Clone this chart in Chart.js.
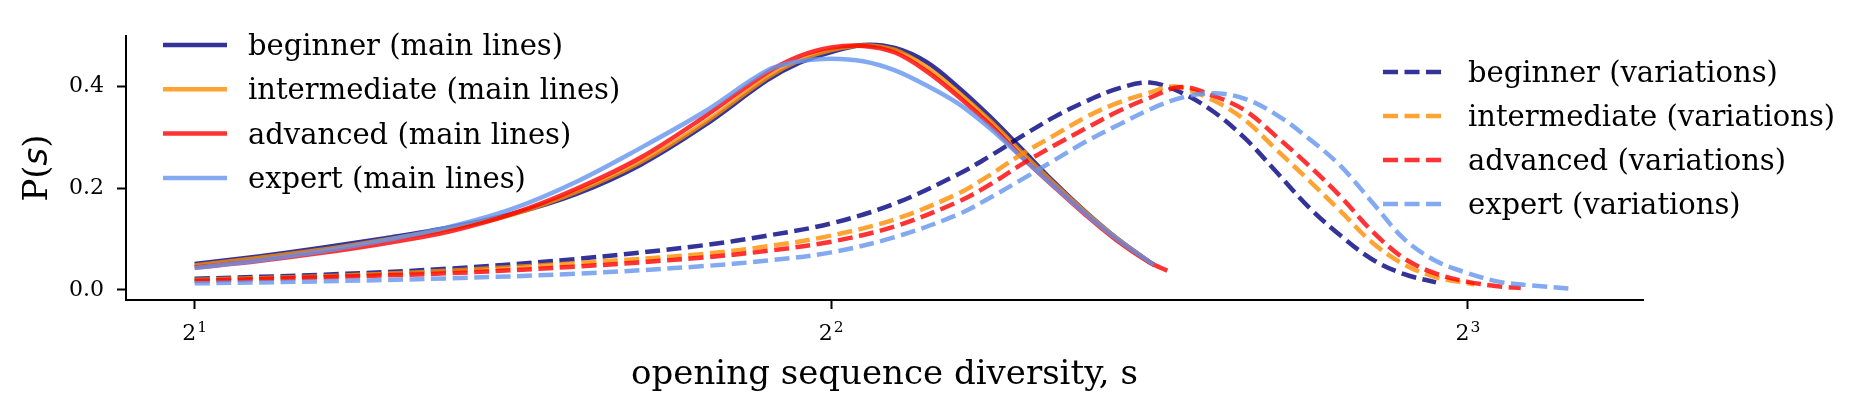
<!DOCTYPE html>
<html><head><meta charset="utf-8">
<script src="https://cdn.jsdelivr.net/npm/chart.js@4/dist/chart.umd.min.js"></script>
<style>html,body{margin:0;padding:0;background:#fff;overflow:hidden}</style>
</head><body>
<canvas id="c" width="1876" height="413"></canvas>
<script>
// ---------- data ----------
const seriesNames = ['beginner', 'intermediate', 'advanced', 'expert'];
const seriesColors = ['rgba(0,0,128,0.8)', 'rgba(255,140,0,0.8)', 'rgba(255,0,0,0.8)', 'rgba(100,149,237,0.8)'];

// main lines (x = opening sequence diversity s, y = P(s))
const mainX = [2.000, 2.144, 2.297, 2.462, 2.639, 2.828, 3.031, 3.249, 3.482, 3.732, 3.864, 4.000, 4.141, 4.287, 4.438, 4.595, 4.757, 4.925, 5.098, 5.278, 5.464, 5.657, 5.684];
const mainXAdvanced = [2.000, 2.144, 2.297, 2.462, 2.639, 2.828, 3.031, 3.249, 3.482, 3.732, 3.864, 4.000, 4.141, 4.287, 4.438, 4.595, 4.757, 4.925, 5.098, 5.278, 5.464, 5.657, 5.767];
const mainBeginner     = [0.051, 0.066, 0.083, 0.102, 0.123, 0.150, 0.189, 0.246, 0.323, 0.413, 0.447, 0.468, 0.482, 0.476, 0.448, 0.398, 0.340, 0.276, 0.212, 0.153, 0.100, 0.055, 0.050];
const mainIntermediate = [0.048, 0.063, 0.079, 0.099, 0.120, 0.149, 0.193, 0.251, 0.328, 0.418, 0.452, 0.472, 0.481, 0.472, 0.438, 0.388, 0.332, 0.269, 0.209, 0.152, 0.100, 0.055, 0.050];
const mainAdvanced     = [0.044, 0.057, 0.073, 0.092, 0.115, 0.150, 0.199, 0.260, 0.340, 0.428, 0.460, 0.477, 0.480, 0.467, 0.430, 0.380, 0.324, 0.261, 0.203, 0.147, 0.096, 0.054, 0.038];
const mainExpert       = [0.043, 0.058, 0.076, 0.098, 0.124, 0.160, 0.213, 0.279, 0.350, 0.432, 0.450, 0.455, 0.450, 0.432, 0.402, 0.366, 0.317, 0.260, 0.204, 0.149, 0.099, 0.055, 0.050];

// variations
const varBeginnerX = [2.000, 2.297, 2.639, 3.031, 3.482, 3.732, 4.000, 4.287, 4.595, 4.757, 4.925, 5.098, 5.278, 5.464, 5.657, 5.856, 6.063, 6.277, 6.498, 6.727, 6.964, 7.210, 7.464, 7.727];
const varBeginner  = [0.022, 0.030, 0.042, 0.061, 0.088, 0.107, 0.131, 0.170, 0.228, 0.264, 0.303, 0.340, 0.371, 0.396, 0.408, 0.388, 0.351, 0.298, 0.231, 0.163, 0.107, 0.060, 0.031, 0.015];
const varIntermediateX = [2.000, 2.297, 2.639, 3.031, 3.482, 3.732, 4.000, 4.287, 4.595, 4.757, 4.925, 5.098, 5.278, 5.464, 5.657, 5.816, 6.063, 6.277, 6.498, 6.727, 6.964, 7.210, 7.464, 7.727, 8.000, 8.056];
const varIntermediate  = [0.020, 0.027, 0.038, 0.053, 0.071, 0.086, 0.107, 0.139, 0.190, 0.227, 0.268, 0.304, 0.340, 0.368, 0.388, 0.400, 0.373, 0.334, 0.275, 0.216, 0.155, 0.093, 0.050, 0.025, 0.013, 0.011];
const varAdvancedX = [2.000, 2.297, 2.639, 3.031, 3.482, 3.732, 4.000, 4.287, 4.595, 4.757, 4.925, 5.098, 5.278, 5.464, 5.657, 5.856, 6.063, 6.277, 6.498, 6.727, 6.964, 7.210, 7.464, 7.727, 8.000, 8.282, 8.474];
const varAdvanced  = [0.018, 0.025, 0.033, 0.046, 0.064, 0.077, 0.095, 0.125, 0.174, 0.208, 0.248, 0.284, 0.318, 0.351, 0.378, 0.399, 0.382, 0.353, 0.301, 0.245, 0.184, 0.115, 0.062, 0.032, 0.016, 0.007, 0.004];
const varExpertX = [2.000, 2.297, 2.639, 3.031, 3.482, 3.732, 4.000, 4.287, 4.595, 4.757, 4.925, 5.098, 5.278, 5.464, 5.657, 5.856, 6.063, 6.277, 6.498, 6.727, 6.964, 7.210, 7.464, 7.727, 8.000, 8.282, 8.574, 8.982];
const varExpert  = [0.013, 0.017, 0.023, 0.032, 0.047, 0.058, 0.074, 0.104, 0.149, 0.182, 0.218, 0.255, 0.292, 0.324, 0.355, 0.378, 0.387, 0.376, 0.344, 0.298, 0.244, 0.172, 0.100, 0.057, 0.033, 0.016, 0.009, 0.002];

// ticks and titles
const xTickValues = [2, 4, 8];
const xTickBase = '2';
const xTickExponents = ['1', '2', '3'];
const yTickValues = [0.0, 0.2, 0.4];
const xAxisTitle = 'opening sequence diversity, s';

// ---------- build ----------
const pts = (xs, ys) => ys.map((y, i) => ({x: xs[i], y: y}));
const mainSets = [
  pts(mainX, mainBeginner), pts(mainX, mainIntermediate), pts(mainXAdvanced, mainAdvanced), pts(mainX, mainExpert)
];
const varSets = [
  pts(varBeginnerX, varBeginner), pts(varIntermediateX, varIntermediate), pts(varAdvancedX, varAdvanced), pts(varExpertX, varExpert)
];
const LW = 4.5;
const DASH = [15, 6.5];
const datasets = [];
mainSets.forEach((d, i) => datasets.push({
  label: seriesNames[i] + ' (main lines)', data: d, borderColor: seriesColors[i],
  borderWidth: LW, pointRadius: 0, fill: false, tension: 0.35, borderDash: [], order: 20 - i
}));
varSets.forEach((d, i) => datasets.push({
  label: seriesNames[i] + ' (variations)', data: d, borderColor: seriesColors[i],
  borderWidth: LW, pointRadius: 0, fill: false, tension: 0.35, borderDash: DASH, order: 10 - i
}));

const SERIF = '"DejaVu Serif", serif';

const overlay = {
  id: 'overlay',
  afterDraw(chart) {
    const ctx = chart.ctx;
    const ds = chart.data.datasets;
    const drawLegend = (items, x0, y0, dy) => {
      items.forEach((d, i) => {
        const y = y0 + i * dy;
        ctx.save();
        ctx.strokeStyle = d.borderColor;
        ctx.lineWidth = d.borderWidth;
        ctx.lineCap = 'butt';
        ctx.setLineDash(d.borderDash || []);
        ctx.beginPath();
        ctx.moveTo(x0, y);
        ctx.lineTo(x0 + 64, y);
        ctx.stroke();
        ctx.restore();
        ctx.save();
        ctx.fillStyle = '#000';
        ctx.font = '29px ' + SERIF;
        ctx.textBaseline = 'alphabetic';
        ctx.textAlign = 'left';
        ctx.fillText(d.label, x0 + 85, y + 10);
        ctx.restore();
      });
    };
    drawLegend(ds.slice(0, 4), 163, 45, 44.3);
    drawLegend(ds.slice(4, 8), 1383, 72, 44);

    const area = chart.chartArea;
    const xs = chart.scales.x;

    // x tick labels 2^n with superscript exponent
    ctx.save();
    ctx.fillStyle = '#000';
    ctx.textBaseline = 'alphabetic';
    ctx.textAlign = 'left';
    xTickValues.forEach((v, i) => {
      const px = xs.getPixelForValue(v);
      ctx.font = '22px ' + SERIF;
      const wb = ctx.measureText(xTickBase).width;
      ctx.font = '15.5px ' + SERIF;
      const we = ctx.measureText(xTickExponents[i]).width;
      const x0 = px - (wb + we + 1) / 2;
      ctx.font = '22px ' + SERIF;
      ctx.fillText(xTickBase, x0, 340);
      ctx.font = '15.5px ' + SERIF;
      ctx.fillText(xTickExponents[i], x0 + wb + 1, 332);
    });
    ctx.restore();

    // x axis title
    ctx.save();
    ctx.fillStyle = '#000';
    ctx.font = '34px ' + SERIF;
    ctx.textAlign = 'center';
    ctx.textBaseline = 'alphabetic';
    ctx.fillText(xAxisTitle, (area.left + area.right) / 2, 384);
    ctx.restore();

    // y axis title P(s), s in math italic
    ctx.save();
    ctx.translate(47, (area.top + area.bottom) / 2);
    ctx.rotate(-Math.PI / 2);
    ctx.fillStyle = '#000';
    ctx.textBaseline = 'alphabetic';
    ctx.textAlign = 'left';
    const f1 = '34px ' + SERIF, f2 = 'italic 34px "DejaVu Sans", sans-serif';
    const parts = [['P(', f1], ['s', f2], [')', f1]];
    let total = 0;
    parts.forEach(p => { ctx.font = p[1]; total += ctx.measureText(p[0]).width; });
    let x = -total / 2;
    parts.forEach(p => { ctx.font = p[1]; ctx.fillText(p[0], x, 0); x += ctx.measureText(p[0]).width; });
    ctx.restore();
  }
};

new Chart(document.getElementById('c'), {
  type: 'line',
  data: { datasets: datasets },
  options: {
    responsive: false,
    animation: false,
    devicePixelRatio: 1,
    layout: { padding: { left: 0, right: 233, top: 36, bottom: 0 } },
    plugins: { legend: { display: false }, tooltip: { enabled: false }, title: { display: false } },
    scales: {
      x: {
        type: 'logarithmic',
        min: 1.856, max: 9.68,
        afterBuildTicks: s => { s.ticks = xTickValues.map(v => ({ value: v })); },
        afterFit: s => { s.height = 113; },
        ticks: { display: false, autoSkip: false, maxRotation: 0, minRotation: 0 },
        grid: { display: true, drawOnChartArea: false, drawTicks: true, tickLength: 9, tickWidth: 2, tickColor: '#000', color: '#000' },
        border: { display: true, color: '#000', width: 2 }
      },
      y: {
        type: 'linear',
        min: -0.0197, max: 0.4995,
        afterBuildTicks: s => { s.ticks = yTickValues.map(v => ({ value: v })); },
        afterFit: s => { s.width = 126; },
        ticks: {
          padding: 13, color: '#000', font: { family: '"DejaVu Serif", serif', size: 22 },
          callback: v => Number(v).toFixed(1)
        },
        grid: { display: true, drawOnChartArea: false, drawTicks: true, tickLength: 9, tickWidth: 2, tickColor: '#000', color: '#000' },
        border: { display: true, color: '#000', width: 2 }
      }
    }
  },
  plugins: [overlay]
});
</script>
</body></html>
